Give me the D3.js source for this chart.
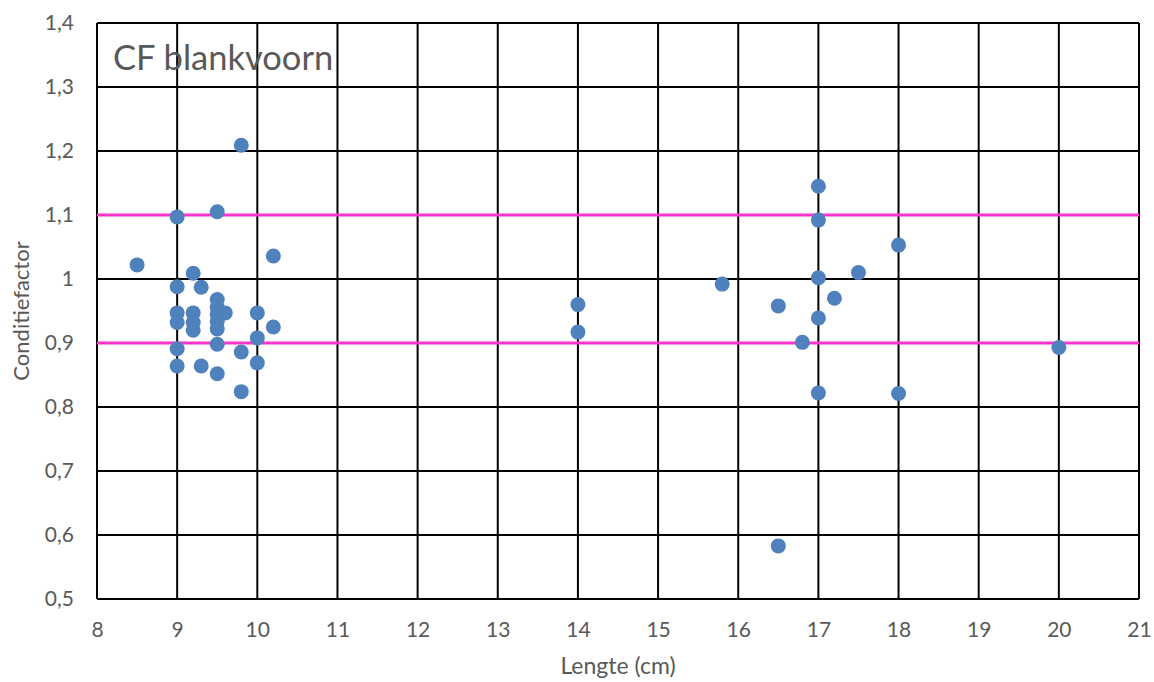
<!DOCTYPE html>
<html>
<head>
<meta charset="utf-8">
<script src="https://cdn.jsdelivr.net/npm/d3@7"></script>
<style>
  html, body { margin: 0; padding: 0; background: #fff; }
  svg { display: block; font-family: Lato, "Open Sans", sans-serif; }
</style>
</head>
<body>
<svg id="chart" width="1154" height="682"></svg>
<script>
// Fish length (cm) and condition factor per measured roach
const lengths = [
  9.8, 9.0, 9.5, 8.5, 10.2, 9.2, 9.0, 9.3,
  9.5, 9.5, 9.5, 9.5, 9.5, 9.6,
  9.0, 9.0, 9.2, 9.2, 9.2, 10.0, 10.2, 10.0,
  9.5, 9.0, 9.8, 9.0, 9.3, 10.0, 9.5, 9.8,
  14.0, 14.0,
  15.8, 16.5, 16.5, 16.8,
  17.0, 17.0, 17.0, 17.0, 17.0, 17.2, 17.5,
  18.0, 18.0, 20.0
];
const conditionFactor = [
  1.209, 1.097, 1.105, 1.022, 1.036, 1.009, 0.988, 0.987,
  0.968, 0.956, 0.945, 0.934, 0.922, 0.947,
  0.947, 0.932, 0.947, 0.932, 0.920, 0.947, 0.925, 0.908,
  0.898, 0.891, 0.886, 0.864, 0.864, 0.869, 0.852, 0.824,
  0.960, 0.917,
  0.992, 0.958, 0.583, 0.901,
  1.145, 1.092, 1.002, 0.939, 0.822, 0.970, 1.010,
  1.053, 0.821, 0.893
];
// Reference band limits
const referenceLines = [0.9, 1.1];

const xTicks = d3.range(8, 22, 1);
const yTicks = d3.range(0.5, 1.41, 0.1).map(v => Math.round(v * 10) / 10);

const svg = d3.select("#chart");
const margin = { left: 97, right: 1139, top: 23, bottom: 599 };

const x = d3.scaleLinear().domain([8, 21]).range([margin.left, margin.right]);
const y = d3.scaleLinear().domain([0.5, 1.4]).range([margin.bottom, margin.top]);

// Dutch decimal comma, whole numbers without decimals
const fmt = v => (Number.isInteger(v) ? String(v) : d3.format(".1f")(v).replace(".", ","));
const textColor = "#595959";

// Grid
const grid = svg.append("g");
grid.selectAll("line.v").data(xTicks).join("line")
  .attr("x1", d => x(d)).attr("x2", d => x(d))
  .attr("y1", y(0.5)).attr("y2", y(1.4))
  .attr("stroke", "#000").attr("stroke-width", 2);
grid.selectAll("line.h").data(yTicks).join("line")
  .attr("x1", x(8)).attr("x2", x(21))
  .attr("y1", d => y(d)).attr("y2", d => y(d))
  .attr("stroke", "#000").attr("stroke-width", 2);

// Axes (labels only; grid draws the lines)
const xAxis = svg.append("g")
  .attr("transform", `translate(0,${margin.bottom})`)
  .call(d3.axisBottom(x).tickValues(xTicks).tickFormat(d3.format("d")).tickSize(0).tickPadding(23));
const yAxis = svg.append("g")
  .attr("transform", `translate(${margin.left},0)`)
  .call(d3.axisLeft(y).tickValues(yTicks).tickFormat(fmt).tickSize(0).tickPadding(23));
[xAxis, yAxis].forEach(a => {
  a.select(".domain").remove();
  a.selectAll("text").attr("fill", textColor).attr("font-size", 21)
    .attr("font-family", "Lato, 'Open Sans', sans-serif");
});

// Reference lines
svg.append("g").selectAll("line").data(referenceLines).join("line")
  .attr("x1", x(8)).attr("x2", x(21))
  .attr("y1", d => y(d)).attr("y2", d => y(d))
  .attr("stroke", "#ff33cc").attr("stroke-width", 3);

// Data points
svg.append("g").selectAll("circle").data(lengths).join("circle")
  .attr("cx", d => x(d))
  .attr("cy", (d, i) => y(conditionFactor[i]))
  .attr("r", 7.5)
  .attr("fill", "#4f81bd");

// Title
svg.append("text")
  .attr("x", 113).attr("y", 70)
  .attr("font-size", 34.5)
  .attr("fill", textColor)
  .text("CF blankvoorn");

// Axis titles
svg.append("text")
  .attr("x", 618).attr("y", 674)
  .attr("text-anchor", "middle")
  .attr("font-size", 23)
  .attr("fill", textColor)
  .text("Lengte (cm)");
svg.append("text")
  .attr("transform", "translate(29,311) rotate(-90)")
  .attr("text-anchor", "middle")
  .attr("font-size", 22)
  .attr("fill", textColor)
  .text("Conditiefactor");
</script>
</body>
</html>
